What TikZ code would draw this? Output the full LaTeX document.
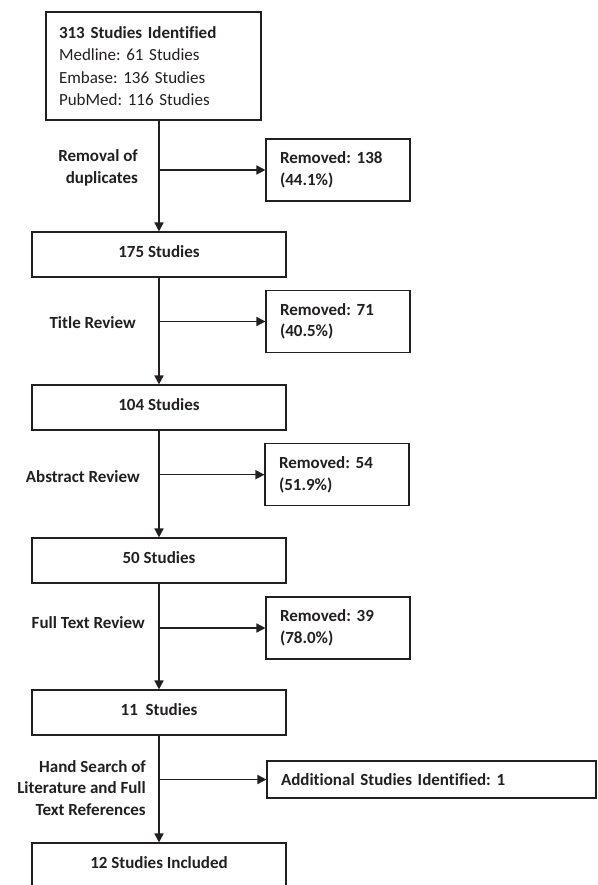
\documentclass[tikz,border=0pt]{standalone}
\usepackage{fontspec}
\setmainfont{Carlito}[Ligatures=NoCommon]
\usepackage{xcolor}
\usepackage{tikz}
\usetikzlibrary{positioning,arrows.meta}
\definecolor{ink}{HTML}{231F20}
\frenchspacing

\begin{document}
\begin{tikzpicture}[x=1pt,y=-1pt,
	every node/.style={text=ink,font=\fontsize{17}{21.5}\selectfont},
	mainbox/.style={draw=ink,line width=1.1pt,minimum width=254pt,minimum height=45pt,inner sep=0pt,text depth=6pt,font=\fontsize{17}{21.5}\selectfont\bfseries},
	sidebox/.style={draw=ink,line width=1.1pt,minimum width=144pt,minimum height=62pt,inner xsep=14pt,text width=116pt,align=left,font=\fontsize{17}{21.5}\selectfont\bfseries},
	steplabel/.style={anchor=east,align=right,inner sep=0pt,font=\fontsize{17}{21.5}\selectfont\bfseries},
	flow/.style={draw=ink,line width=1.5pt,-{Triangle[length=9pt,width=9pt]}}]
	\useasboundingbox (0,0) rectangle (597,885);
	\node [draw=ink,line width=1.1pt,minimum width=215pt,minimum height=108pt,inner xsep=13pt,text width=189pt,align=left,font=\fontsize{17}{22.5}\selectfont]
		(b313) at (153.5,66) {\textbf{313 Studies Identified}\\Medline: 61 Studies\\Embase: 136 Studies\\PubMed: 116 Studies};
	\node [mainbox] (b175) at (159,254.5) {175 Studies};
	\node [mainbox] (b104) at (159,407.5) {104 Studies};
	\node [mainbox] (b50)  at (159,560.5) {50 Studies};
	\node [mainbox] (b11)  at (159,712.5) {11\ \ Studies};
	\node [mainbox] (b12)  at (159,865.5) {12 Studies Included};
	\node [sidebox] (r138) at (338,170)   {Removed: 138\\(44.1\%)};
	\node [sidebox] (r71)  at (338,321.5) {Removed: 71\\(40.5\%)};
	\node [sidebox] (r54)  at (337,474.7) {Removed: 54\\(51.9\%)};
	\node [sidebox] (r39)  at (338,628)   {Removed: 39\\(78.0\%)};
	\node [sidebox,minimum width=329pt,minimum height=37pt,text width=301pt] (add) at (431.5,779.5) {Additional Studies Identified: 1};
	\node [steplabel] (l1) at (138,168)   {Removal of\\duplicates};
	\node [steplabel] (l2) at (136,323)   {Title Review};
	\node [steplabel] (l3) at (140,476.7) {Abstract Review};
	\node [steplabel] (l4) at (145,622.7) {Full Text Review};
	\node [steplabel] (l5) at (146,788)   {Hand Search of\\Literature and Full\\Text References};
	\draw [flow] (b313.south -| b175.north) -- (b175.north);
	\draw [flow] (b175.south) -- (b104.north);
	\draw [flow] (b104.south) -- (b50.north);
	\draw [flow] (b50.south) -- (b11.north);
	\draw [flow] (b11.south) -- (b12.north);
	\draw [flow] (r138.west -| b175.north) -- (r138.west);
	\draw [flow] (r71.west -| b175.north) -- (r71.west);
	\draw [flow] (r54.west -| b175.north) -- (r54.west);
	\draw [flow] (r39.west -| b175.north) -- (r39.west);
	\draw [flow] (add.west -| b175.north) -- (add.west);
\end{tikzpicture}
\end{document}
